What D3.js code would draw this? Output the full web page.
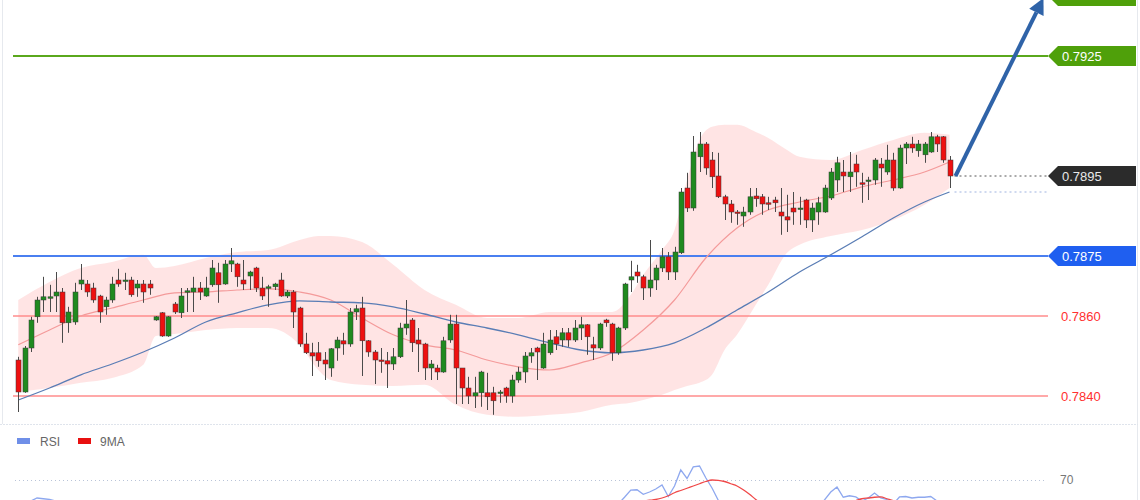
<!DOCTYPE html>
<html><head><meta charset="utf-8">
<script src="https://cdn.jsdelivr.net/npm/d3@7"></script>
<style>html,body{margin:0;padding:0;background:#fff;}svg{display:block;font-family:"Liberation Sans",Arial,sans-serif;}</style>
</head><body>
<svg id="c" width="1140" height="500"></svg>
<script>
const openP=[0.78490,0.78410,0.78520,0.78598,0.78640,0.78648,0.78650,0.78660,0.78583,0.78585,0.78680,0.78680,0.78670,0.78650,0.78623,0.78640,0.78690,0.78690,0.78690,0.78670,0.78680,0.78680,0.78590,0.78608,0.78550,0.78630,0.78608,0.78660,0.78660,0.78670,0.78650,0.78678,0.78708,0.78680,0.78730,0.78730,0.78690,0.78700,0.78720,0.78670,0.78670,0.78673,0.78690,0.78650,0.78660,0.78620,0.78530,0.78508,0.78508,0.78490,0.78470,0.78520,0.78538,0.78530,0.78610,0.78620,0.78538,0.78510,0.78490,0.78488,0.78480,0.78498,0.78570,0.78590,0.78540,0.78530,0.78470,0.78470,0.78460,0.78540,0.78580,0.78470,0.78420,0.78400,0.78408,0.78408,0.78408,0.78410,0.78420,0.78400,0.78440,0.78460,0.78500,0.78520,0.78470,0.78508,0.78548,0.78540,0.78558,0.78540,0.78570,0.78578,0.78528,0.78520,0.78590,0.78580,0.78508,0.78570,0.78690,0.78710,0.78698,0.78670,0.78690,0.78720,0.78748,0.78710,0.78758,0.78920,0.78870,0.78998,0.79030,0.78990,0.78950,0.78898,0.78880,0.78860,0.78850,0.78860,0.78900,0.78898,0.78883,0.78890,0.78860,0.78848,0.78870,0.78868,0.78890,0.78840,0.78860,0.78860,0.78895,0.78940,0.78960,0.78948,0.78980,0.78933,0.78938,0.78940,0.78980,0.78960,0.78990,0.78920,0.79020,0.79030,0.79013,0.79003,0.79010,0.79048,0.79048,0.78990];
const highP=[0.78498,0.78525,0.78598,0.78648,0.78698,0.78678,0.78710,0.78670,0.78623,0.78683,0.78730,0.78690,0.78683,0.78653,0.78648,0.78698,0.78718,0.78708,0.78698,0.78690,0.78690,0.78690,0.78600,0.78610,0.78600,0.78635,0.78670,0.78670,0.78698,0.78685,0.78698,0.78740,0.78733,0.78740,0.78770,0.78733,0.78740,0.78713,0.78723,0.78698,0.78678,0.78683,0.78708,0.78665,0.78665,0.78623,0.78558,0.78533,0.78535,0.78510,0.78520,0.78548,0.78558,0.78620,0.78628,0.78648,0.78540,0.78515,0.78520,0.78510,0.78520,0.78583,0.78640,0.78595,0.78570,0.78533,0.78490,0.78478,0.78548,0.78603,0.78603,0.78470,0.78448,0.78448,0.78463,0.78458,0.78423,0.78415,0.78423,0.78453,0.78473,0.78510,0.78520,0.78523,0.78558,0.78565,0.78565,0.78570,0.78570,0.78590,0.78598,0.78580,0.78548,0.78583,0.78593,0.78583,0.78573,0.78683,0.78738,0.78728,0.78703,0.78790,0.78728,0.78770,0.78760,0.78773,0.78920,0.78958,0.79050,0.79060,0.79035,0.79010,0.79008,0.78903,0.78890,0.78865,0.78873,0.78920,0.78920,0.78905,0.78898,0.78898,0.78920,0.78903,0.78910,0.78898,0.78893,0.78883,0.78898,0.78928,0.78970,0.78998,0.78990,0.79010,0.79003,0.78958,0.78948,0.78995,0.78995,0.79028,0.79008,0.79028,0.79035,0.79048,0.79040,0.79035,0.79060,0.79053,0.79050,0.79000];
const lowP=[0.78360,0.78408,0.78510,0.78583,0.78610,0.78610,0.78610,0.78533,0.78558,0.78578,0.78665,0.78648,0.78633,0.78583,0.78603,0.78633,0.78673,0.78665,0.78648,0.78648,0.78633,0.78653,0.78588,0.78548,0.78548,0.78605,0.78595,0.78610,0.78610,0.78640,0.78648,0.78673,0.78633,0.78678,0.78710,0.78673,0.78665,0.78665,0.78660,0.78640,0.78623,0.78665,0.78648,0.78645,0.78570,0.78523,0.78505,0.78450,0.78473,0.78440,0.78448,0.78488,0.78503,0.78523,0.78590,0.78450,0.78498,0.78430,0.78458,0.78420,0.78465,0.78495,0.78553,0.78510,0.78460,0.78440,0.78440,0.78440,0.78458,0.78533,0.78380,0.78380,0.78380,0.78370,0.78373,0.78365,0.78353,0.78383,0.78383,0.78383,0.78433,0.78433,0.78483,0.78440,0.78468,0.78503,0.78515,0.78523,0.78523,0.78535,0.78540,0.78503,0.78490,0.78515,0.78573,0.78488,0.78503,0.78565,0.78660,0.78683,0.78640,0.78648,0.78665,0.78710,0.78690,0.78690,0.78755,0.78860,0.78863,0.78960,0.78953,0.78920,0.78895,0.78840,0.78833,0.78828,0.78823,0.78853,0.78873,0.78853,0.78865,0.78860,0.78803,0.78810,0.78828,0.78828,0.78820,0.78810,0.78828,0.78858,0.78890,0.78910,0.78910,0.78910,0.78923,0.78883,0.78890,0.78928,0.78923,0.78953,0.78913,0.78918,0.78980,0.79008,0.78998,0.78983,0.79008,0.79010,0.78983,0.78920];
const closeP=[0.78410,0.78520,0.78590,0.78640,0.78648,0.78648,0.78660,0.78583,0.78610,0.78660,0.78690,0.78660,0.78640,0.78610,0.78640,0.78680,0.78680,0.78690,0.78653,0.78680,0.78660,0.78670,0.78598,0.78550,0.78598,0.78610,0.78650,0.78663,0.78670,0.78660,0.78670,0.78720,0.78678,0.78730,0.78738,0.78698,0.78680,0.78710,0.78670,0.78650,0.78673,0.78680,0.78650,0.78660,0.78610,0.78530,0.78508,0.78500,0.78488,0.78480,0.78518,0.78540,0.78530,0.78610,0.78618,0.78538,0.78510,0.78490,0.78488,0.78480,0.78498,0.78570,0.78580,0.78533,0.78530,0.78470,0.78480,0.78460,0.78538,0.78580,0.78470,0.78420,0.78400,0.78408,0.78460,0.78398,0.78388,0.78410,0.78400,0.78440,0.78460,0.78500,0.78508,0.78510,0.78530,0.78540,0.78530,0.78558,0.78540,0.78570,0.78578,0.78548,0.78520,0.78580,0.78583,0.78508,0.78570,0.78680,0.78698,0.78700,0.78670,0.78690,0.78720,0.78748,0.78710,0.78760,0.78910,0.78870,0.79010,0.79030,0.78970,0.78948,0.78898,0.78880,0.78860,0.78858,0.78860,0.78898,0.78893,0.78880,0.78880,0.78883,0.78850,0.78840,0.78860,0.78870,0.78840,0.78870,0.78883,0.78920,0.78960,0.78983,0.78950,0.78960,0.78960,0.78930,0.78940,0.78990,0.78970,0.78990,0.78920,0.79020,0.79030,0.79020,0.79030,0.79030,0.79048,0.79030,0.78990,0.78950];

// Bollinger band (at sample candles)
const bandIdx=[0,5,10,15,20,22,25,30,35,40,45,48,50,55,60,65,70,75,80,85,90,95,98,100,103,105,107,109,111,113,115,118,120,123,125,130,135,140,145,149];
const bandUpper=[0.78640,0.78685,0.78720,0.78735,0.78753,0.78720,0.78725,0.78745,0.78760,0.78765,0.78790,0.78800,0.78800,0.78785,0.78728,0.78665,0.78628,0.78595,0.78595,0.78610,0.78610,0.78610,0.78653,0.78703,0.78765,0.78815,0.78940,0.79040,0.79073,0.79078,0.79078,0.79060,0.79045,0.79015,0.78998,0.78990,0.79015,0.79040,0.79058,0.79053];
const bandLower=[0.78410,0.78420,0.78433,0.78445,0.78478,0.78550,0.78555,0.78565,0.78570,0.78570,0.78528,0.78465,0.78440,0.78428,0.78425,0.78428,0.78378,0.78353,0.78348,0.78353,0.78360,0.78378,0.78383,0.78390,0.78403,0.78415,0.78425,0.78433,0.78453,0.78515,0.78553,0.78628,0.78678,0.78758,0.78778,0.78800,0.78815,0.78840,0.78878,0.78920];
// moving averages
const maIdx=[0,5,10,15,20,25,30,35,40,45,50,55,60,65,70,75,80,85,90,95,100,105,110,115,120,125,130,135,140,145,149];
const maMid=[0.78528,0.78565,0.78600,0.78620,0.78640,0.78658,0.78660,0.78665,0.78668,0.78660,0.78640,0.78595,0.78553,0.78528,0.78515,0.78490,0.78473,0.78465,0.78483,0.78508,0.78565,0.78640,0.78745,0.78820,0.78865,0.78885,0.78900,0.78923,0.78940,0.78960,0.78985];
const maSlow=[0.78390,0.78420,0.78453,0.78480,0.78510,0.78545,0.78585,0.78608,0.78628,0.78638,0.78635,0.78633,0.78623,0.78605,0.78585,0.78570,0.78553,0.78533,0.78515,0.78508,0.78515,0.78533,0.78570,0.78615,0.78660,0.78710,0.78753,0.78798,0.78845,0.78885,0.78910];

const levelsGreen=[0.7925,0.7940];
const levelBlue=0.7875;
const levelsRed=[0.7860,0.7840];

const rsi=[46,52,56,58,57.5,57,56,50,53,55,56,54,53,50,53,54,54,54.5,53,54,53,54,46,42,47,48,51,52,53,52,53,54.5,53,54.5,55,53,51,54,50,48,50,51,48,49,44,38,36,35,34,33,38,41,40,48,49,42,40,38,38,37,40,47,48,44,44,39,40,38,46,50,41,37,35,36,42,36,35,38,37,42,44,48,49,49,51,52,51,54,52,55,55.5,52,49,55,55,47,54,58.5,63.3,63.5,60.5,62,64,66.7,59,66,76.7,71,78.7,79.3,71.5,64.7,56.5,53,51,50.5,51,54,53.5,52,52,52.5,49,48,51,52,48,52,53,56.7,62,65.3,58.5,59.5,58.7,56,58,61.3,58,57,54,58.7,59,58,58.5,58.5,59,56,52,47];
const ma9=[45,46,47,49,51,52,53,54,54,55,55.5,55.5,55,54.5,54.5,54.5,54.5,54.5,54.5,54.5,54,54,53,51.5,50.5,49.5,49,48.5,48.5,48.5,49,50.5,51.5,52.5,53.5,54,54,54,53.5,52.5,52,51.5,50.5,49.5,48.5,47,45,43,41,39,38,37.5,37.5,38.5,39.5,40,40.5,41,41.5,41,40.5,41,42,42.5,42.5,42.5,42,41.5,42,43,42.5,41.5,41,40,40,39.5,39,38.5,38,38.5,39.5,40.5,42,43.5,45,46.5,48,49.5,50.5,51.5,52,52.5,52.5,53,53.5,53,53,53.5,54.5,55.5,56,56.5,57,58,59.5,61.5,63,64.5,66,67.5,69,70,69.8,69,67.5,66,63.5,60.5,57,54,52,51,50.5,50.5,50.5,51,51,51,51.5,52,53,54,54.5,55.5,56.3,57.5,58,58.5,58.7,57.5,56.3,56,55.8,55.5,55.5,55.5,55,55,54.5,54];
const rsiLevel=70;

const svg=d3.select("#c");
const n=closeP.length;
const x=d3.scaleLinear().domain([0,n-1]).range([18.3,949.5]);
const y=d3.scaleLinear().domain([0.7840,0.7925]).range([396,56]);
const yr=d3.scaleLinear().domain([50,70]).range([510,480]);

// frame
svg.append("line").attr("x1",2.5).attr("x2",2.5).attr("y1",0).attr("y2",424).attr("stroke","#e6e9ee");
svg.append("line").attr("x1",1137.5).attr("x2",1137.5).attr("y1",0).attr("y2",500).attr("stroke","#e6e9ee");
svg.append("line").attr("x1",0).attr("x2",1138).attr("y1",424.5).attr("y2",424.5).attr("stroke","#dfe4ec").attr("stroke-dasharray","2,1");

// band
const bandData=bandIdx.map((d,i)=>({i:d,u:bandUpper[i],l:bandLower[i]}));
svg.append("path").datum(bandData)
 .attr("d",d3.area().x(d=>x(d.i)).y0(d=>y(d.l)).y1(d=>y(d.u)).curve(d3.curveMonotoneX))
 .attr("fill","#ff7a7a").attr("fill-opacity",0.2);

// level lines
const lx1=13,lx2=1048;
svg.append("line").attr("x1",lx1).attr("x2",lx2).attr("y1",y(levelsGreen[0])).attr("y2",y(levelsGreen[0])).attr("stroke","#5aa81c").attr("stroke-width",2);
svg.append("line").attr("x1",lx1).attr("x2",lx2).attr("y1",y(levelBlue)).attr("y2",y(levelBlue)).attr("stroke","#4a7ff0").attr("stroke-width",2);
levelsRed.forEach(v=>svg.append("line").attr("x1",lx1).attr("x2",lx2).attr("y1",y(v)).attr("y2",y(v)).attr("stroke","#ff8c8c").attr("stroke-width",1.5));

// MAs
const maData=maIdx.map((d,i)=>({i:d,m:maMid[i],s:maSlow[i]}));
svg.append("path").datum(maData).attr("d",d3.line().x(d=>x(d.i)).y(d=>y(d.m)).curve(d3.curveMonotoneX))
 .attr("fill","none").attr("stroke","#f49a9a").attr("stroke-width",1.2);
svg.append("path").datum(maData).attr("d",d3.line().x(d=>x(d.i)).y(d=>y(d.s)).curve(d3.curveMonotoneX))
 .attr("fill","none").attr("stroke","#5a7db5").attr("stroke-width",1.3);

// candles
const cd=d3.range(n).map(i=>({i,o:openP[i],h:highP[i],l:lowP[i],c:closeP[i]}));
const g=svg.append("g");
g.selectAll("line.w").data(cd).join("line").attr("class","w")
 .attr("x1",d=>Math.round(x(d.i))+0.5).attr("x2",d=>Math.round(x(d.i))+0.5)
 .attr("y1",d=>y(d.h)).attr("y2",d=>y(d.l)).attr("stroke","#4a4a4a").attr("stroke-width",1);
g.selectAll("rect").data(cd).join("rect")
 .attr("x",d=>Math.round(x(d.i))-2).attr("width",5)
 .attr("y",d=>y(Math.max(d.o,d.c)))
 .attr("height",d=>Math.max(1.5,Math.abs(y(d.o)-y(d.c))))
 .attr("fill",d=>d.c>=d.o?"#1f8a1f":"#ee1010")
 .attr("stroke","#3a3a3a").attr("stroke-width",0.5);

// last-price dotted lines
const last=closeP[n-1], lastMa=maSlow[maSlow.length-1];
svg.append("line").attr("x1",x(n-1)+5).attr("x2",lx2).attr("y1",y(last)).attr("y2",y(last)).attr("stroke","#555").attr("stroke-dasharray","2,3");
svg.append("line").attr("x1",x(n-1)+5).attr("x2",lx2).attr("y1",y(lastMa)).attr("y2",y(lastMa)).attr("stroke","#9fb3e0").attr("stroke-dasharray","2,3");

// arrow
const ax1=x(n-1)+6, ay1=y(last), ax2=x(n-1)+94, ay2=y(0.79395);
const ang=Math.atan2(ay2-ay1,ax2-ax1);
const hl=16, hw=8;
const bx=ax2-hl*Math.cos(ang), by=ay2-hl*Math.sin(ang);
svg.append("line").attr("x1",ax1).attr("y1",ay1).attr("x2",bx).attr("y2",by).attr("stroke","#2f63a8").attr("stroke-width",4);
svg.append("path").attr("d",`M${ax2},${ay2}L${bx+hw*Math.sin(ang)},${by-hw*Math.cos(ang)}L${bx-hw*Math.sin(ang)},${by+hw*Math.cos(ang)}Z`).attr("fill","#2f63a8");

// labels
function tag(v,fill,txt,showText){
  const yy=y(v);
  svg.append("path").attr("d",`M1048,${yy}L1058,${yy-10}L1136,${yy-10}L1136,${yy+10}L1058,${yy+10}Z`).attr("fill",fill);
  if(showText) svg.append("text").attr("x",1062).attr("y",yy+5).attr("fill",txt).attr("font-size",13).text(d3.format(".4f")(v));
}
tag(levelsGreen[1],"#4fa00a","#fff",false);
tag(levelsGreen[0],"#4fa00a","#fff",true);
tag(last,"#2b2b2b","#e8e8e8",true);
tag(levelBlue,"#1f5ff0","#fff",true);
levelsRed.forEach(v=>svg.append("text").attr("x",1061).attr("y",y(v)+5).attr("fill","#ff3030").attr("font-size",13).text(d3.format(".4f")(v)));

// RSI panel
svg.append("rect").attr("x",17).attr("y",438).attr("width",13).attr("height",6).attr("fill","#6f8fe8");
svg.append("text").attr("x",40).attr("y",446).attr("font-size",12).attr("fill","#666").text("RSI");
svg.append("rect").attr("x",78).attr("y",438).attr("width",13).attr("height",6).attr("fill","#e81010");
svg.append("text").attr("x",100).attr("y",446).attr("font-size",12).attr("fill","#666").text("9MA");
svg.append("line").attr("x1",15).attr("x2",1045).attr("y1",yr(rsiLevel)+0.5).attr("y2",yr(rsiLevel)+0.5).attr("stroke","#b9c4d8").attr("stroke-dasharray","1,3");
svg.append("text").attr("x",1060).attr("y",yr(rsiLevel)+4).attr("font-size",12).attr("fill","#777").text(String(rsiLevel));
svg.append("clipPath").attr("id","rc").append("rect").attr("x",0).attr("y",426).attr("width",1140).attr("height",80);
svg.append("path").datum(rsi).attr("clip-path","url(#rc)").attr("d",d3.line().x((d,i)=>x(i)).y(d=>yr(d)))
 .attr("fill","none").attr("stroke","#8ea8ef").attr("stroke-width",1.3);
svg.append("path").datum(ma9).attr("clip-path","url(#rc)").attr("d",d3.line().x((d,i)=>x(i)).y(d=>yr(d)).curve(d3.curveMonotoneX))
 .attr("fill","none").attr("stroke","#f04848").attr("stroke-width",1.3);
</script>
</body></html>
